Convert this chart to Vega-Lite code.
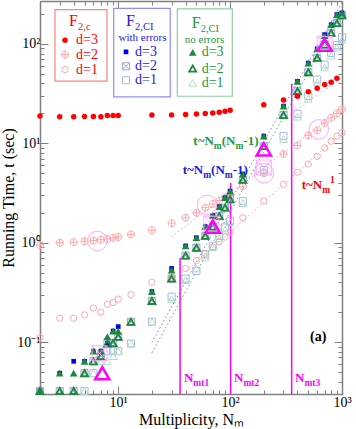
{
"$schema":"https://vega.github.io/schema/vega-lite/v6.json",
"width":302,"height":393,
"autosize":{"type":"none"},
"padding":{"left":40,"top":1,"right":14,"bottom":35},
"background":"white",
"config":{"view":{"stroke":null},"text":{"font":"Liberation Serif"}},
"datasets":{
"pts":[
{"s":"c3","N":2,"t":18.8},{"s":"c3","N":3,"t":18.5},{"s":"c3","N":4,"t":18.5},{"s":"c3","N":5,"t":18.6},{"s":"c3","N":6,"t":18.6},{"s":"c3","N":7,"t":18.5},{"s":"c3","N":8,"t":19.0},{"s":"c3","N":9,"t":19.0},{"s":"c3","N":10,"t":19.0},{"s":"c3","N":20,"t":19.2},{"s":"c3","N":30,"t":19.3},{"s":"c3","N":40,"t":19.5},{"s":"c3","N":50,"t":19.7},{"s":"c3","N":60,"t":19.9},{"s":"c3","N":70,"t":20.2},{"s":"c3","N":80,"t":20.5},{"s":"c3","N":90,"t":21.0},{"s":"c3","N":100,"t":21.5},{"s":"c3","N":200,"t":24.4},{"s":"c3","N":300,"t":27.3},{"s":"c3","N":400,"t":29.7},{"s":"c3","N":500,"t":33},{"s":"c3","N":600,"t":35.8},{"s":"c3","N":700,"t":39},{"s":"c3","N":800,"t":41.1},{"s":"c3","N":900,"t":45.1},{"s":"c3","N":3.346,"t":108.7},
{"s":"c2","N":2,"t":0.946},{"s":"c2","N":3,"t":1.0},{"s":"c2","N":4,"t":1.01},{"s":"c2","N":5,"t":1.03},{"s":"c2","N":6,"t":1.05},{"s":"c2","N":7,"t":1.07},{"s":"c2","N":8,"t":1.09},{"s":"c2","N":9,"t":1.12},{"s":"c2","N":10,"t":1.14},{"s":"c2","N":13,"t":1.21},{"s":"c2","N":20,"t":1.33},{"s":"c2","N":30,"t":1.57},{"s":"c2","N":40,"t":1.78},{"s":"c2","N":50,"t":2.0},{"s":"c2","N":60,"t":2.25},{"s":"c2","N":70,"t":2.45},{"s":"c2","N":80,"t":2.65},{"s":"c2","N":90,"t":2.85},{"s":"c2","N":100,"t":3.05},{"s":"c2","N":130,"t":3.7},{"s":"c2","N":200,"t":5.0},{"s":"c2","N":300,"t":7.8},{"s":"c2","N":400,"t":9.5},{"s":"c2","N":500,"t":12},{"s":"c2","N":600,"t":13.5},{"s":"c2","N":700,"t":16},{"s":"c2","N":800,"t":18},{"s":"c2","N":900,"t":20},{"s":"c2","N":1000,"t":22},{"s":"c2","N":3.346,"t":78.1},
{"s":"c1","N":2,"t":0.111},{"s":"c1","N":3,"t":0.1735},{"s":"c1","N":4,"t":0.1735},{"s":"c1","N":5,"t":0.188},{"s":"c1","N":6,"t":0.22},{"s":"c1","N":7,"t":0.2},{"s":"c1","N":8,"t":0.24},{"s":"c1","N":9,"t":0.25},{"s":"c1","N":10,"t":0.27},{"s":"c1","N":13,"t":0.30},{"s":"c1","N":20,"t":0.40},{"s":"c1","N":30,"t":0.45},{"s":"c1","N":40,"t":0.55},{"s":"c1","N":50,"t":0.66},{"s":"c1","N":60,"t":0.78},{"s":"c1","N":70,"t":0.9},{"s":"c1","N":80,"t":1.02},{"s":"c1","N":90,"t":1.14},{"s":"c1","N":100,"t":1.28},{"s":"c1","N":130,"t":1.78},{"s":"c1","N":200,"t":2.62},{"s":"c1","N":300,"t":3.85},{"s":"c1","N":400,"t":5.1},{"s":"c1","N":500,"t":6.2},{"s":"c1","N":600,"t":7.4},{"s":"c1","N":700,"t":9.0},{"s":"c1","N":800,"t":10.5},{"s":"c1","N":900,"t":11.8},{"s":"c1","N":1000,"t":12.8},{"s":"c1","N":3.346,"t":55.2},
{"s":"e3","N":2,"t":0.0322},{"s":"e3","N":3,"t":0.0486},{"s":"e3","N":4,"t":0.064},{"s":"e3","N":5,"t":0.064},{"s":"e3","N":6,"t":0.081},{"s":"e3","N":7,"t":0.081},{"s":"e3","N":8,"t":0.0965},{"s":"e3","N":9,"t":0.129},{"s":"e3","N":10,"t":0.143},{"s":"e3","N":20,"t":0.322},{"s":"e3","N":30,"t":0.55},{"s":"e3","N":40,"t":0.925},{"s":"e3","N":50,"t":1.12},{"s":"e3","N":60,"t":1.45},{"s":"e3","N":70,"t":1.88},{"s":"e3","N":80,"t":2.3},{"s":"e3","N":90,"t":2.83},{"s":"e3","N":100,"t":3.3},{"s":"e3","N":130,"t":4.9},{"s":"e3","N":200,"t":11.8},{"s":"e3","N":300,"t":23.6},{"s":"e3","N":400,"t":42},{"s":"e3","N":500,"t":64},{"s":"e3","N":600,"t":89},{"s":"e3","N":700,"t":124},{"s":"e3","N":800,"t":156},{"s":"e3","N":900,"t":197},{"s":"e3","N":1000,"t":205},{"s":"e3","N":11.74,"t":83.1},
{"s":"e2","N":2,"t":0.0322},{"s":"e2","N":3,"t":0.0322},{"s":"e2","N":4,"t":0.0322},{"s":"e2","N":5,"t":0.0486},{"s":"e2","N":6,"t":0.064},{"s":"e2","N":7,"t":0.072},{"s":"e2","N":8,"t":0.0965},{"s":"e2","N":9,"t":0.0976},{"s":"e2","N":10,"t":0.113},{"s":"e2","N":13,"t":0.16},{"s":"e2","N":20,"t":0.259},{"s":"e2","N":30,"t":0.435},{"s":"e2","N":40,"t":0.74},{"s":"e2","N":50,"t":0.89},{"s":"e2","N":60,"t":1.17},{"s":"e2","N":70,"t":1.45},{"s":"e2","N":80,"t":1.85},{"s":"e2","N":90,"t":2.25},{"s":"e2","N":100,"t":2.73},{"s":"e2","N":130,"t":4.3},{"s":"e2","N":200,"t":9.35},{"s":"e2","N":300,"t":19.2},{"s":"e2","N":400,"t":33.4},{"s":"e2","N":500,"t":51.9},{"s":"e2","N":600,"t":72.3},{"s":"e2","N":700,"t":98.4},{"s":"e2","N":800,"t":129},{"s":"e2","N":900,"t":162},{"s":"e2","N":1000,"t":194},{"s":"e2","N":11.74,"t":59.5},
{"s":"e1","N":5,"t":0.0322},{"s":"e1","N":6,"t":0.0486},{"s":"e1","N":8,"t":0.081},{"s":"e1","N":9,"t":0.081},{"s":"e1","N":10,"t":0.081},{"s":"e1","N":13,"t":0.0965},{"s":"e1","N":20,"t":0.16},{"s":"e1","N":30,"t":0.286},{"s":"e1","N":40,"t":0.435},{"s":"e1","N":50,"t":0.52},{"s":"e1","N":60,"t":0.76},{"s":"e1","N":70,"t":0.93},{"s":"e1","N":80,"t":1.17},{"s":"e1","N":90,"t":1.42},{"s":"e1","N":100,"t":1.65},{"s":"e1","N":130,"t":2.62},{"s":"e1","N":200,"t":5.4},{"s":"e1","N":300,"t":11.8},{"s":"e1","N":400,"t":19.8},{"s":"e1","N":500,"t":29.8},{"s":"e1","N":600,"t":43.8},{"s":"e1","N":700,"t":62},{"s":"e1","N":800,"t":81},{"s":"e1","N":900,"t":97},{"s":"e1","N":1000,"t":117},{"s":"e1","N":11.74,"t":43.1},
{"s":"n3","N":2,"t":0.0322},{"s":"n3","N":3,"t":0.0486},{"s":"n3","N":4,"t":0.0486},{"s":"n3","N":5,"t":0.064},{"s":"n3","N":6,"t":0.081},{"s":"n3","N":7,"t":0.081},{"s":"n3","N":8,"t":0.1135},{"s":"n3","N":9,"t":0.129},{"s":"n3","N":10,"t":0.129},{"s":"n3","N":20,"t":0.322},{"s":"n3","N":30,"t":0.53},{"s":"n3","N":40,"t":0.925},{"s":"n3","N":50,"t":1.12},{"s":"n3","N":60,"t":1.45},{"s":"n3","N":70,"t":1.88},{"s":"n3","N":80,"t":2.3},{"s":"n3","N":90,"t":2.83},{"s":"n3","N":100,"t":3.3},{"s":"n3","N":130,"t":4.9},{"s":"n3","N":200,"t":11.8},{"s":"n3","N":300,"t":23.6},{"s":"n3","N":400,"t":42},{"s":"n3","N":500,"t":64},{"s":"n3","N":600,"t":89},{"s":"n3","N":700,"t":121},{"s":"n3","N":800,"t":156},{"s":"n3","N":900,"t":197},{"s":"n3","N":1000,"t":205},{"s":"n3","N":46.33,"t":82.3},
{"s":"n2","N":2,"t":0.0322},{"s":"n2","N":3,"t":0.0322},{"s":"n2","N":4,"t":0.0322},{"s":"n2","N":5,"t":0.0486},{"s":"n2","N":6,"t":0.064},{"s":"n2","N":7,"t":0.072},{"s":"n2","N":8,"t":0.0965},{"s":"n2","N":9,"t":0.0976},{"s":"n2","N":10,"t":0.113},{"s":"n2","N":13,"t":0.16},{"s":"n2","N":20,"t":0.259},{"s":"n2","N":30,"t":0.435},{"s":"n2","N":40,"t":0.74},{"s":"n2","N":50,"t":0.89},{"s":"n2","N":60,"t":1.17},{"s":"n2","N":70,"t":1.45},{"s":"n2","N":80,"t":1.85},{"s":"n2","N":90,"t":2.25},{"s":"n2","N":100,"t":2.73},{"s":"n2","N":130,"t":4.3},{"s":"n2","N":200,"t":9.35},{"s":"n2","N":300,"t":19.2},{"s":"n2","N":400,"t":33.4},{"s":"n2","N":500,"t":51.9},{"s":"n2","N":600,"t":72.3},{"s":"n2","N":700,"t":98.4},{"s":"n2","N":800,"t":129},{"s":"n2","N":900,"t":162},{"s":"n2","N":1000,"t":194},{"s":"n2","N":46.33,"t":56.5},
{"s":"n1","N":5,"t":0.0322},{"s":"n1","N":6,"t":0.0486},{"s":"n1","N":7,"t":0.064},{"s":"n1","N":8,"t":0.064},{"s":"n1","N":9,"t":0.072},{"s":"n1","N":10,"t":0.081},{"s":"n1","N":13,"t":0.0965},{"s":"n1","N":20,"t":0.16},{"s":"n1","N":30,"t":0.27},{"s":"n1","N":40,"t":0.42},{"s":"n1","N":50,"t":0.55},{"s":"n1","N":60,"t":0.72},{"s":"n1","N":70,"t":0.9},{"s":"n1","N":80,"t":1.1},{"s":"n1","N":90,"t":1.35},{"s":"n1","N":100,"t":1.6},{"s":"n1","N":130,"t":2.5},{"s":"n1","N":200,"t":5.2},{"s":"n1","N":300,"t":11},{"s":"n1","N":400,"t":18.5},{"s":"n1","N":500,"t":28},{"s":"n1","N":600,"t":41},{"s":"n1","N":700,"t":58},{"s":"n1","N":800,"t":76},{"s":"n1","N":900,"t":92},{"s":"n1","N":1000,"t":110},{"s":"n1","N":46.33,"t":40.6},
{"s":"hT","N":7.2,"t":0.0486},{"s":"hT","N":70,"t":1.45},{"s":"hT","N":200,"t":8.7},{"s":"hT","N":700,"t":98},
{"s":"hC","N":6.5,"t":1.04},{"s":"hC","N":62,"t":2.4},{"s":"hC","N":200,"t":5.0},{"s":"hC","N":620,"t":13.8},
{"s":"hS","N":6.8,"t":0.077},{"s":"hS","N":68,"t":1.55},{"s":"hS","N":200,"t":5.7},{"s":"hS","N":700,"t":100}
],
"fits":[
{"f":"b","g":"lb","N":20,"t":0.0988},{"f":"b","g":"lb","N":30,"t":0.226},{"f":"b","g":"lb","N":50,"t":0.637},{"f":"b","g":"lb","N":100,"t":2.57},{"f":"b","g":"lb","N":200,"t":10.3},{"f":"b","g":"lb","N":500,"t":64.9},{"f":"b","g":"lb","N":1000,"t":259},
{"f":"g","g":"lg","N":20,"t":0.078},{"f":"g","g":"lg","N":30,"t":0.179},{"f":"g","g":"lg","N":50,"t":0.505},{"f":"g","g":"lg","N":100,"t":2.04},{"f":"g","g":"lg","N":200,"t":8.2},{"f":"g","g":"lg","N":500,"t":51.4},{"f":"g","g":"lg","N":1000,"t":206},
{"f":"p1","g":"lp","N":40,"t":0.51},{"f":"p1","g":"lp","N":1000,"t":12.8},
{"f":"p2","g":"lp","N":30,"t":1.15},{"f":"p2","g":"lp","N":1000,"t":22},
{"f":"p3","g":"lp","N":300,"t":17.5},{"f":"p3","g":"lp","N":1000,"t":45.5}
],
"rules":[{"N":35.7,"t":0.7},{"N":101,"t":4.0},{"N":355,"t":39.6}],
"boxes":[{"N":2.724,"N2":7.94,"t":221.2,"t2":42.1,"g":"c"},{"N":9.116,"N2":29.2,"t":228,"t2":29.3,"g":"e"},{"N":33.75,"N2":104.6,"t":225,"t2":29.7,"g":"n"}],
"ftxt":[{"N":3.634,"t":152.7,"g":"c","sub":"2,c"},{"N":11.74,"t":152.7,"g":"e","sub":"2,CI"},{"N":45.4,"t":144.8,"g":"n","sub":"2,CI"}],
"subt":[{"N":16.49,"t":106.2,"g":"e","txt":"with errors"},{"N":59.05,"t":102.3,"g":"n","txt":"no errors"}],
"ltxt":[{"N":4.197,"t":108.7,"g":"c","txt":"d=3"},{"N":4.197,"t":78.1,"g":"c","txt":"d=2"},{"N":4.197,"t":55.2,"g":"c","txt":"d=1"},{"N":14.13,"t":83.1,"g":"e","txt":"d=3"},{"N":14.13,"t":59.5,"g":"e","txt":"d=2"},{"N":14.13,"t":43.1,"g":"e","txt":"d=1"},{"N":55.75,"t":82.3,"g":"n","txt":"d=3"},{"N":55.75,"t":56.5,"g":"n","txt":"d=2"},{"N":55.75,"t":40.6,"g":"n","txt":"d=1"}],
"tlab":[{"N":46.9,"t":9.5,"g":"n","k":"nn"},{"N":37.7,"t":4.91,"g":"e","k":"nn"},{"N":436.5,"t":3.47,"g":"c","k":"lin"}],
"nmt":[{"N":38.7,"t":0.0394,"sub":"mt1"},{"N":108.3,"t":0.0394,"sub":"mt2"},{"N":380,"t":0.0394,"sub":"mt3"}],
"alab":[{"N":517.6,"t":0.1019,"txt":"(a)"}]
},
"resolve":{"axis":{"x":"independent","y":"independent"}},
"layer":[
{"data":{"name":"rules"},"mark":{"type":"rule","color":"#ff00ff","strokeWidth":1.5},
 "encoding":{
  "x":{"field":"N","type":"quantitative","scale":{"type":"log","domain":[2,1000],"nice":false},
   "axis":{"orient":"bottom","values":[2,3,4,5,6,7,8,9,10,20,30,40,50,60,70,80,90,100,200,300,400,500,600,700,800,900,1000],
    "labelExpr":"datum.value==10?'10¹':datum.value==100?'10²':datum.value==1000?'10³':''",
    "tickSize":{"condition":{"test":"abs(log(datum.value)/LN10-round(log(datum.value)/LN10))<0.001","value":-8},"value":-4},
    "tickColor":"#808080","domainColor":"#808080","domainWidth":1.5,"labelFont":"Liberation Serif","labelFontSize":14,"labelColor":"#000","labelPadding":9,"labelOverlap":false,"labelFlush":false,"grid":false,
    "title":"Multiplicity, Nₘ","titleFont":"Liberation Serif","titleFontSize":16,"titleFontWeight":"normal","titleColor":"#000","titlePadding":-2}},
  "y":{"field":"t","type":"quantitative","scale":{"type":"log","domain":[0.03,270],"nice":false},
   "axis":{"orient":"left","values":[0.03,0.04,0.05,0.06,0.07,0.08,0.09,0.1,0.2,0.3,0.4,0.5,0.6,0.7,0.8,0.9,1,2,3,4,5,6,7,8,9,10,20,30,40,50,60,70,80,90,100,200],
    "labelExpr":"datum.value==0.1?'10⁻¹':datum.value==1?'10⁰':datum.value==10?'10¹':datum.value==100?'10²':''",
    "tickSize":{"condition":{"test":"abs(log(datum.value)/LN10-round(log(datum.value)/LN10))<0.001","value":-8},"value":-4},
    "tickColor":"#808080","domainColor":"#808080","domainWidth":1.5,"labelFont":"Liberation Serif","labelFontSize":14,"labelColor":"#000","labelPadding":8,"labelOverlap":false,"labelFlush":false,"grid":false,
    "title":"Running Time, t (sec)","titleFont":"Liberation Serif","titleFontSize":16,"titleFontWeight":"normal","titleColor":"#000","titlePadding":0}},
  "y2":{"datum":0.03}}},
{"data":{"name":"fits"},"mark":{"type":"line","strokeDash":[1.5,2.5],"strokeWidth":1},
 "encoding":{
  "x":{"field":"N","type":"quantitative","scale":{"type":"log","domain":[2,1000],"nice":false},
   "axis":{"orient":"top","values":[2,3,4,5,6,7,8,9,10,20,30,40,50,60,70,80,90,100,200,300,400,500,600,700,800,900,1000],"labels":false,"title":null,
    "tickSize":{"condition":{"test":"abs(log(datum.value)/LN10-round(log(datum.value)/LN10))<0.001","value":-8},"value":-4},
    "tickColor":"#808080","domainColor":"#808080","domainWidth":1.5,"grid":false}},
  "y":{"field":"t","type":"quantitative","scale":{"type":"log","domain":[0.03,270],"nice":false},
   "axis":{"orient":"right","values":[0.03,0.04,0.05,0.06,0.07,0.08,0.09,0.1,0.2,0.3,0.4,0.5,0.6,0.7,0.8,0.9,1,2,3,4,5,6,7,8,9,10,20,30,40,50,60,70,80,90,100,200],"labels":false,"title":null,
    "tickSize":{"condition":{"test":"abs(log(datum.value)/LN10-round(log(datum.value)/LN10))<0.001","value":-8},"value":-4},
    "tickColor":"#808080","domainColor":"#808080","domainWidth":1.5,"grid":false}},
  "color":{"field":"g","type":"nominal","scale":{"domain":["c","e","n","m","k","lb","lg","lp"],"range":["#ff0000","#1a1ae6","#1e9a3e","#ff00ff","#000000","#7878ff","#4cb46c","#ffa0a0"]},"legend":null},
  "detail":{"field":"f"}}},
{"data":{"name":"boxes"},"mark":{"type":"rect","fill":"white","strokeWidth":1.2},
 "encoding":{"x":{"field":"N","type":"quantitative","axis":null},"x2":{"field":"N2"},"y":{"field":"t","type":"quantitative","axis":null},"y2":{"field":"t2"},
  "stroke":{"field":"g","type":"nominal","scale":{"domain":["c","e","n"],"range":["#ff8080","#8c8cff","#8fcc9f"]},"legend":null}}},
{"data":{"name":"pts"},"transform":[{"filter":"datum.s=='c1'"}],"mark":{"type":"point","shape":"circle","filled":false,"stroke":"#ffa8a8","strokeWidth":1,"size":40,"opacity":1},
 "encoding":{"x":{"field":"N","type":"quantitative","axis":null},"y":{"field":"t","type":"quantitative","axis":null}}},
{"data":{"name":"pts"},"transform":[{"filter":"datum.s=='c2'"}],"mark":{"type":"point","shape":"M-1,0A1,1,0,1,0,1,0A1,1,0,1,0,-1,0ZM-1,0L1,0M0,-1L0,1","filled":false,"stroke":"#ffa8a8","strokeWidth":1,"size":50,"opacity":1},
 "encoding":{"x":{"field":"N","type":"quantitative","axis":null},"y":{"field":"t","type":"quantitative","axis":null}}},
{"data":{"name":"pts"},"transform":[{"filter":"datum.s=='e1'"}],"mark":{"type":"point","shape":"square","filled":false,"stroke":"#a8b8e8","strokeWidth":1,"size":50,"opacity":1},
 "encoding":{"x":{"field":"N","type":"quantitative","axis":null},"y":{"field":"t","type":"quantitative","axis":null}}},
{"data":{"name":"pts"},"transform":[{"filter":"datum.s=='n1'"}],"mark":{"type":"point","shape":"triangle-up","filled":false,"stroke":"#b0dcc0","strokeWidth":1,"size":60,"opacity":1},
 "encoding":{"x":{"field":"N","type":"quantitative","axis":null},"y":{"field":"t","type":"quantitative","axis":null}}},
{"data":{"name":"pts"},"transform":[{"filter":"datum.s=='e2'"}],"mark":{"type":"point","shape":"M-1,-1L1,-1L1,1L-1,1ZM-1,-1L1,1M1,-1L-1,1","filled":false,"stroke":"#a0a8d8","strokeWidth":1,"size":50,"opacity":1},
 "encoding":{"x":{"field":"N","type":"quantitative","axis":null},"y":{"field":"t","type":"quantitative","axis":null}}},
{"data":{"name":"pts"},"transform":[{"filter":"datum.s=='e3'"}],"mark":{"type":"point","shape":"square","filled":true,"color":"#0000ee","size":22,"opacity":1},
 "encoding":{"x":{"field":"N","type":"quantitative","axis":null},"y":{"field":"t","type":"quantitative","axis":null}}},
{"data":{"name":"pts"},"transform":[{"filter":"datum.s=='n2'"}],"mark":{"type":"point","shape":"triangle-up","filled":false,"stroke":"#1a8a3a","strokeWidth":1.8,"size":50,"opacity":1},
 "encoding":{"x":{"field":"N","type":"quantitative","axis":null},"y":{"field":"t","type":"quantitative","axis":null}}},
{"data":{"name":"pts"},"transform":[{"filter":"datum.s=='n3'"}],"mark":{"type":"point","shape":"triangle-up","filled":true,"color":"#1a8a3a","size":60,"opacity":1},
 "encoding":{"x":{"field":"N","type":"quantitative","axis":null},"y":{"field":"t","type":"quantitative","axis":null}}},
{"data":{"name":"pts"},"transform":[{"filter":"datum.s=='c3'"}],"mark":{"type":"point","shape":"circle","filled":true,"color":"#ff0000","size":30,"opacity":1},
 "encoding":{"x":{"field":"N","type":"quantitative","axis":null},"y":{"field":"t","type":"quantitative","axis":null}}},
{"data":{"name":"pts"},"transform":[{"filter":"datum.s=='hC'"}],"mark":{"type":"point","shape":"circle","filled":false,"stroke":"#ffa8ff","strokeWidth":1,"size":380,"opacity":1},
 "encoding":{"x":{"field":"N","type":"quantitative","axis":null},"y":{"field":"t","type":"quantitative","axis":null}}},
{"data":{"name":"pts"},"transform":[{"filter":"datum.s=='hS'"}],"mark":{"type":"point","shape":"M-1,-1L1,-1L1,1L-1,1ZM-1,-1L1,1M1,-1L-1,1","filled":false,"stroke":"#ffa8ff","strokeWidth":1,"size":225,"opacity":1},
 "encoding":{"x":{"field":"N","type":"quantitative","axis":null},"y":{"field":"t","type":"quantitative","axis":null}}},
{"data":{"name":"pts"},"transform":[{"filter":"datum.s=='hT'"}],"mark":{"type":"point","shape":"triangle-up","filled":false,"stroke":"#ff00ff","strokeWidth":2.5,"size":200,"opacity":1},
 "encoding":{"x":{"field":"N","type":"quantitative","axis":null},"y":{"field":"t","type":"quantitative","axis":null}}},
{"data":{"name":"ftxt"},"mark":{"type":"text","text":"F","fontSize":16,"align":"left","baseline":"alphabetic"},
 "encoding":{"x":{"field":"N","type":"quantitative","axis":null},"y":{"field":"t","type":"quantitative","axis":null},"color":{"field":"g","type":"nominal","legend":null}}},
{"data":{"name":"ftxt"},"mark":{"type":"text","fontSize":10.5,"align":"left","baseline":"alphabetic","dx":9,"dy":4},
 "encoding":{"x":{"field":"N","type":"quantitative","axis":null},"y":{"field":"t","type":"quantitative","axis":null},"text":{"field":"sub"},"color":{"field":"g","type":"nominal","legend":null}}},
{"data":{"name":"subt"},"mark":{"type":"text","fontSize":11,"align":"center","baseline":"alphabetic"},
 "encoding":{"x":{"field":"N","type":"quantitative","axis":null},"y":{"field":"t","type":"quantitative","axis":null},"text":{"field":"txt"},"color":{"field":"g","type":"nominal","legend":null}}},
{"data":{"name":"ltxt"},"mark":{"type":"text","fontSize":14,"align":"left","baseline":"middle"},
 "encoding":{"x":{"field":"N","type":"quantitative","axis":null},"y":{"field":"t","type":"quantitative","axis":null},"text":{"field":"txt"},"color":{"field":"g","type":"nominal","legend":null}}},
{"data":{"name":"tlab"},"mark":{"type":"text","text":"t~N","fontSize":13,"fontWeight":"bold","align":"left","baseline":"alphabetic"},
 "encoding":{"x":{"field":"N","type":"quantitative","axis":null},"y":{"field":"t","type":"quantitative","axis":null},"color":{"field":"g","type":"nominal","legend":null}}},
{"data":{"name":"tlab"},"mark":{"type":"text","text":"m","fontSize":9.5,"fontWeight":"bold","align":"left","baseline":"alphabetic","dx":20.5,"dy":4},
 "encoding":{"x":{"field":"N","type":"quantitative","axis":null},"y":{"field":"t","type":"quantitative","axis":null},"color":{"field":"g","type":"nominal","legend":null}}},
{"data":{"name":"tlab"},"transform":[{"filter":"datum.k=='nn'"}],"mark":{"type":"text","text":"(N","fontSize":13,"fontWeight":"bold","align":"left","baseline":"alphabetic","dx":28.4},
 "encoding":{"x":{"field":"N","type":"quantitative","axis":null},"y":{"field":"t","type":"quantitative","axis":null},"color":{"field":"g","type":"nominal","legend":null}}},
{"data":{"name":"tlab"},"transform":[{"filter":"datum.k=='nn'"}],"mark":{"type":"text","text":"m","fontSize":9.5,"fontWeight":"bold","align":"left","baseline":"alphabetic","dx":42.1,"dy":4},
 "encoding":{"x":{"field":"N","type":"quantitative","axis":null},"y":{"field":"t","type":"quantitative","axis":null},"color":{"field":"g","type":"nominal","legend":null}}},
{"data":{"name":"tlab"},"transform":[{"filter":"datum.k=='nn'"}],"mark":{"type":"text","text":"-1)","fontSize":13,"fontWeight":"bold","align":"left","baseline":"alphabetic","dx":50},
 "encoding":{"x":{"field":"N","type":"quantitative","axis":null},"y":{"field":"t","type":"quantitative","axis":null},"color":{"field":"g","type":"nominal","legend":null}}},
{"data":{"name":"tlab"},"transform":[{"filter":"datum.k=='lin'"}],"mark":{"type":"text","text":"1","fontSize":9.5,"fontWeight":"bold","align":"left","baseline":"alphabetic","dx":28.4,"dy":-6},
 "encoding":{"x":{"field":"N","type":"quantitative","axis":null},"y":{"field":"t","type":"quantitative","axis":null},"color":{"field":"g","type":"nominal","legend":null}}},
{"data":{"name":"nmt"},"mark":{"type":"text","text":"N","fontSize":13,"fontWeight":"bold","align":"left","baseline":"alphabetic","color":"#ff00ff"},
 "encoding":{"x":{"field":"N","type":"quantitative","axis":null},"y":{"field":"t","type":"quantitative","axis":null}}},
{"data":{"name":"nmt"},"mark":{"type":"text","fontSize":9.5,"fontWeight":"bold","align":"left","baseline":"alphabetic","color":"#ff00ff","dx":9.4,"dy":4},
 "encoding":{"x":{"field":"N","type":"quantitative","axis":null},"y":{"field":"t","type":"quantitative","axis":null},"text":{"field":"sub"}}},
{"data":{"name":"alab"},"mark":{"type":"text","fontSize":14,"fontWeight":"bold","align":"left","baseline":"alphabetic","color":"#000000"},
 "encoding":{"x":{"field":"N","type":"quantitative","axis":null},"y":{"field":"t","type":"quantitative","axis":null},"text":{"field":"txt"}}}
]
}
